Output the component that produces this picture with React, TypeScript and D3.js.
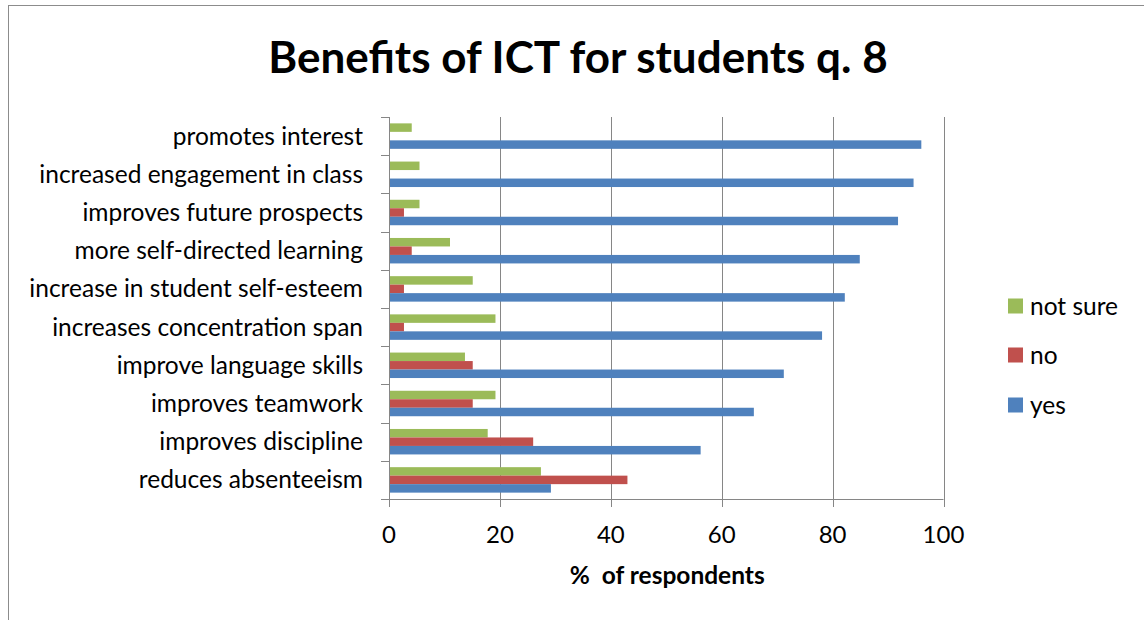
import { useRef, useEffect } from "react";
import * as d3 from "d3";

const categories = [
  "promotes interest",
  "increased engagement in class",
  "improves future prospects",
  "more self-directed learning",
  "increase in student self-esteem",
  "increases concentration span",
  "improve language skills",
  "improves teamwork",
  "improves discipline",
  "reduces absenteeism",
];

const yesValues = [96.0, 94.6, 91.8, 84.9, 82.2, 78.1, 71.2, 65.8, 56.2, 29.2];
const noValues = [0, 0, 2.7, 4.1, 2.7, 2.7, 15.1, 15.1, 26.0, 43.0];
const notSureValues = [4.1, 5.5, 5.5, 11.0, 15.1, 19.2, 13.7, 19.2, 17.8, 27.4];

const seriesNames = ["not sure", "no", "yes"];
const seriesColors = ["#9BBB59", "#C0504D", "#4F81BD"];
const xTicks = [0, 20, 40, 60, 80, 100];

const W = 1144;
const H = 620;
const FONT = "Lato, 'Open Sans', sans-serif";

export default function App() {
  const svgRef = useRef<SVGSVGElement | null>(null);

  useEffect(() => {
    if (!svgRef.current) return;
    const svg = d3.select(svgRef.current);
    svg.selectAll("*").remove();

    const left = 389;
    const right = 943.5;
    const top = 117;
    const bottom = 499;

    const x = d3.scaleLinear().domain([0, 100]).range([left, right]);
    const y = d3.scaleBand().domain(categories).range([top, bottom]);
    const bw = y.bandwidth() / 4.5; // gap width 150%

    // outer frame (only top and left edges visible)
    svg
      .append("rect")
      .attr("x", 8.5)
      .attr("y", 5.5)
      .attr("width", W)
      .attr("height", H)
      .attr("fill", "none")
      .attr("stroke", "#8c8c8c")
      .attr("stroke-width", 1);

    // title
    svg
      .append("text")
      .attr("x", 578)
      .attr("y", 73)
      .attr("text-anchor", "middle")
      .attr("font-family", FONT)
      .attr("font-weight", "bold")
      .attr("font-size", 44)
      .text("Benefits of ICT for students q. 8");

    // vertical gridlines
    svg
      .append("g")
      .selectAll("line")
      .data(xTicks.slice(1))
      .join("line")
      .attr("x1", (d) => Math.round(x(d)) + 0.5)
      .attr("x2", (d) => Math.round(x(d)) + 0.5)
      .attr("y1", top)
      .attr("y2", bottom)
      .attr("stroke", "#868686");

    // bars
    const rows = categories.map((c, i) => ({
      cat: c,
      vals: [notSureValues[i], noValues[i], yesValues[i]],
    }));
    const g = svg.append("g");
    rows.forEach((r) => {
      r.vals.forEach((v, k) => {
        if (v <= 0) return;
        g.append("rect")
          .attr("x", x(0))
          .attr("y", (y(r.cat) as number) + bw * 0.75 + k * bw)
          .attr("width", x(v) - x(0))
          .attr("height", bw)
          .attr("fill", seriesColors[k]);
      });
    });

    // y axis line and ticks
    svg
      .append("line")
      .attr("x1", left + 0.5)
      .attr("x2", left + 0.5)
      .attr("y1", top)
      .attr("y2", bottom)
      .attr("stroke", "#868686");
    svg
      .append("g")
      .selectAll("line")
      .data(d3.range(categories.length + 1))
      .join("line")
      .attr("x1", left - 8)
      .attr("x2", left)
      .attr("y1", (i) => Math.round(top + i * y.step()) + 0.5)
      .attr("y2", (i) => Math.round(top + i * y.step()) + 0.5)
      .attr("stroke", "#868686");

    // category labels
    svg
      .append("g")
      .selectAll("text")
      .data(categories)
      .join("text")
      .attr("x", 363)
      .attr("y", (d) => (y(d) as number) + y.bandwidth() / 2)
      .attr("dy", "0.35em")
      .attr("text-anchor", "end")
      .attr("font-family", FONT)
      .attr("font-size", 24.5)
      .attr("fill", "#000")
      .text((d) => d);

    // x axis line and ticks
    svg
      .append("line")
      .attr("x1", left - 8)
      .attr("x2", right)
      .attr("y1", bottom + 0.5)
      .attr("y2", bottom + 0.5)
      .attr("stroke", "#868686");
    svg
      .append("g")
      .selectAll("line")
      .data(xTicks)
      .join("line")
      .attr("x1", (d) => Math.round(x(d)) + 0.5)
      .attr("x2", (d) => Math.round(x(d)) + 0.5)
      .attr("y1", bottom)
      .attr("y2", bottom + 8)
      .attr("stroke", "#868686");
    svg
      .append("g")
      .selectAll("text")
      .data(xTicks)
      .join("text")
      .attr("x", (d) => x(d))
      .attr("y", 535)
      .attr("dy", "0.35em")
      .attr("text-anchor", "middle")
      .attr("font-family", FONT)
      .attr("font-size", 24)
      .text((d) => d);

    svg
      .append("text")
      .attr("x", (left + right) / 2 + 1)
      .attr("y", 575)
      .attr("dy", "0.35em")
      .attr("text-anchor", "middle")
      .attr("font-family", FONT)
      .attr("font-weight", "bold")
      .attr("font-size", 24.5)
      .attr("xml:space", "preserve")
      .text("%  of respondents");

    // legend
    const legendY = [306, 355, 405];
    const lg = svg.append("g");
    seriesNames.forEach((name, k) => {
      lg.append("rect")
        .attr("x", 1008)
        .attr("y", legendY[k] - 7.5)
        .attr("width", 15)
        .attr("height", 15)
        .attr("fill", seriesColors[k]);
      lg.append("text")
        .attr("x", 1030)
        .attr("y", legendY[k])
        .attr("dy", "0.35em")
        .attr("font-family", FONT)
        .attr("font-size", 24.5)
        .text(name);
    });
  }, []);

  return (
    <svg
      ref={svgRef}
      width={W}
      height={H}
      style={{ position: "absolute", left: 0, top: 0, background: "#fff" }}
    />
  );
}
